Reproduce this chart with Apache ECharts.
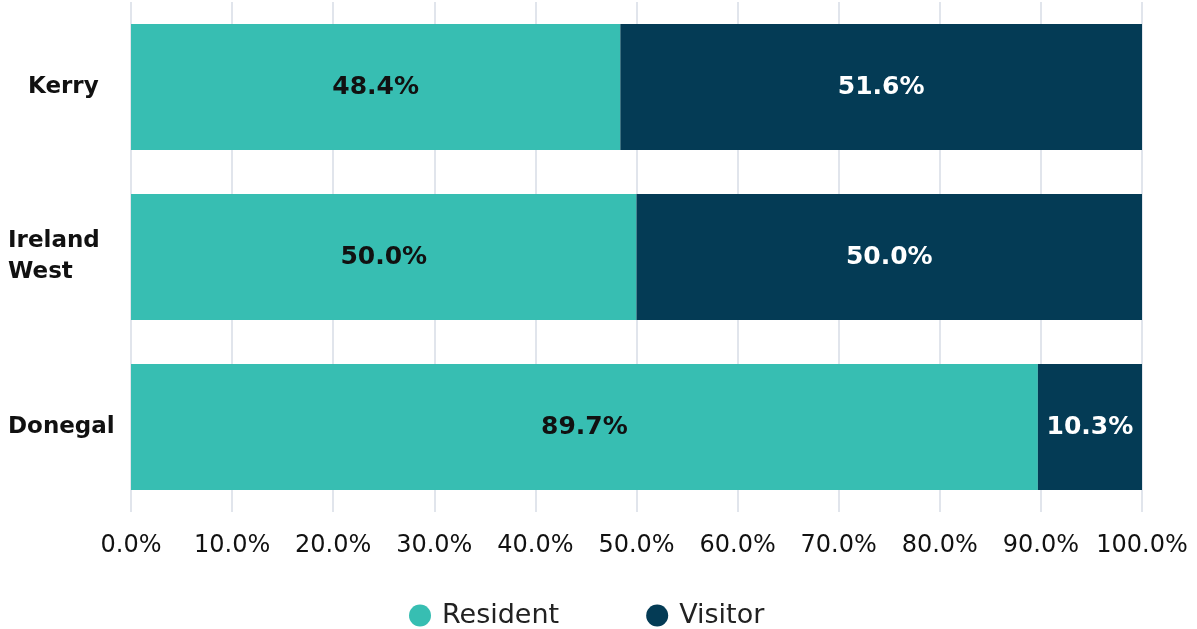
<!DOCTYPE html>
<html>
<head>
<meta charset="utf-8">
<script src="https://cdn.jsdelivr.net/npm/echarts@6/dist/echarts.min.js"></script>
<style>
    html, body { margin: 0; padding: 0; background: #fff; }
    #chart { width: 1197px; height: 629px; }
</style>
</head>
<body>
<div id="chart"></div>
<script type="text/javascript">
    var regions = ['Donegal', 'Ireland\nWest', 'Kerry'];
    var resident = [89.7, 50.0, 48.4];
    var visitor = [10.3, 50.0, 51.6];
    var seriesNames = ['Resident', 'Visitor'];

    var font = 'DejaVu Sans';
    var chart = echarts.init(document.getElementById('chart'));

    function barLabel(color) {
        return {
            show: true,
            position: 'inside',
            color: color,
            fontFamily: font,
            fontWeight: 'bold',
            fontSize: 25,
            formatter: function (p) { return p.value.toFixed(1) + '%'; }
        };
    }

    chart.setOption({
        animation: false,
        grid: { left: 131, right: 55, top: 2, bottom: 117 },
        legend: {
            top: 597,
            left: 404,
            icon: 'circle',
            itemWidth: 22,
            itemHeight: 22,
            itemGap: 87,
            textStyle: { fontFamily: font, fontSize: 27, color: '#222', padding: [0, 0, 0, 6] },
            data: seriesNames
        },
        xAxis: {
            type: 'value',
            min: 0,
            max: 100,
            interval: 10,
            axisLine: { show: false },
            axisTick: { show: false },
            splitLine: { lineStyle: { color: '#e1e5ec', width: 2 } },
            axisLabel: {
                margin: 22,
                color: '#111',
                fontFamily: font,
                fontSize: 24,
                formatter: function (v) { return v.toFixed(1) + '%'; }
            }
        },
        yAxis: {
            type: 'category',
            data: regions,
            axisLine: { show: false },
            axisTick: { show: false },
            axisLabel: {
                align: 'left',
                margin: 123,
                color: '#111',
                fontFamily: font,
                fontWeight: 'bold',
                fontSize: 23,
                lineHeight: 31,
                formatter: function (v) {
                    return v === 'Kerry' ? '{k|' + v + '}' : v;
                },
                rich: {
                    k: {
                        padding: [0, 0, 0, 20],
                        color: '#111',
                        fontFamily: font,
                        fontWeight: 'bold',
                        fontSize: 23
                    }
                }
            }
        },
        series: [
            {
                name: seriesNames[0],
                type: 'bar',
                stack: 'total',
                barWidth: 126,
                itemStyle: { color: '#37beb2' },
                label: barLabel('#111'),
                data: resident
            },
            {
                name: seriesNames[1],
                type: 'bar',
                stack: 'total',
                barWidth: 126,
                itemStyle: { color: '#043b55' },
                label: barLabel('#fff'),
                data: visitor
            }
        ]
    });
</script>
</body>
</html>
